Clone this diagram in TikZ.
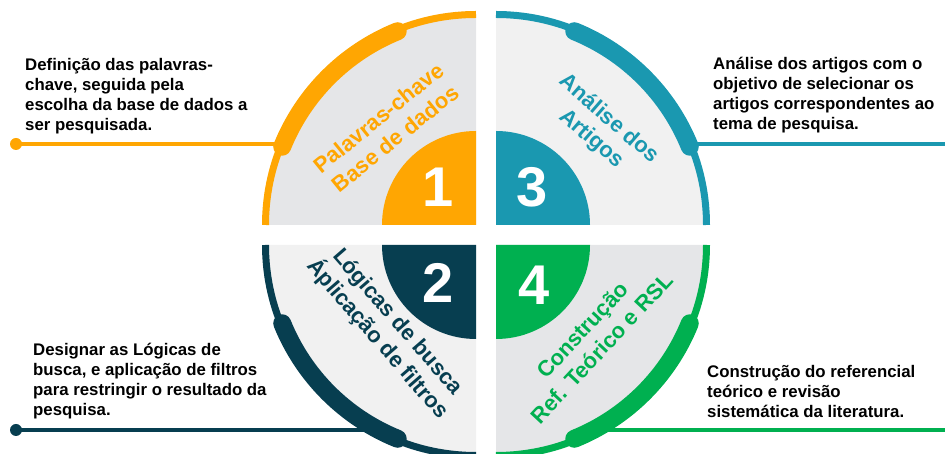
\documentclass[tikz,border=0pt]{standalone}
\usepackage{fontspec}
\setmainfont{Liberation Sans}
\definecolor{cOrange}{HTML}{FFA602}
\definecolor{cTeal}{HTML}{1A98B0}
\definecolor{cNavy}{HTML}{073E50}
\definecolor{cGreen}{HTML}{00B050}
\definecolor{cGrayA}{HTML}{E5E6E8}
\definecolor{cGrayB}{HTML}{F1F1F1}

% one quarter of the wheel: #1 centre, #2 start angle, #3 accent colour,
% #4 fill colour, #5 start angle of the thick band
\newcommand\wheelquarter[5]{%
  \fill[#4] #1 -- ++(#2:210) arc[start angle=#2, end angle=#2+90, radius=210] -- cycle;
  \draw[#3, line width=7pt] #1 ++(#2:210.5) arc[start angle=#2, end angle=#2+90, radius=210.5];
  \draw[#3, line width=18pt, line cap=round] #1 ++(#5:209) arc[start angle=#5, end angle=#5+46, radius=209];
  \fill[#3] #1 -- ++(#2:94) arc[start angle=#2, end angle=#2+90, radius=94] -- cycle;
}
\newcommand\desclines[1]{\begin{tabular}[t]{@{}l@{}}#1\end{tabular}}

\begin{document}
\begin{tikzpicture}[x=1pt,y=1pt,
  conn/.style={line width=4pt},
  enddot/.style={circle, inner sep=0pt, minimum size=12pt},
  desc/.style={anchor=base west, inner sep=0pt, text=black,
    font=\fontsize{16.8}{20}\selectfont\bfseries},
  numlbl/.style={inner sep=0pt, text=white, font=\fontsize{56}{56}\selectfont\bfseries},
  qlabel/.style={inner sep=0pt, align=center, font=\fontsize{22}{26.5}\selectfont\bfseries},
]
\useasboundingbox (0,0) rectangle (945,454);
\clip (0,0) rectangle (945,454);

% connectors from the descriptions to the wheel
\node[enddot, fill=cOrange] (p1) at (16,310) {};
\coordinate (q1) at (300,310);
\draw[conn, cOrange] (p1.center) -- (q1);

\coordinate (q3) at (680,310);
\coordinate (p3) at (945,310);
\draw[conn, cTeal] (q3) -- (p3);

\node[enddot, fill=cNavy] (p2) at (16,24) {};
\coordinate (q2) at (380,24);
\draw[conn, cNavy] (p2.center) -- (q2);

\coordinate (q4) at (590,24);
\coordinate (p4) at (945,24);
\draw[conn, cGreen] (q4) -- (p4);

% the four quarters
\wheelquarter{(476,229)}{90}{cOrange}{cGrayA}{112}
\wheelquarter{(496,229)}{0}{cTeal}{cGrayB}{22}
\wheelquarter{(476,209)}{180}{cNavy}{cGrayB}{202}
\wheelquarter{(496,209)}{270}{cGreen}{cGrayA}{292}

% step numbers
\node[numlbl] (n1) at (476-38,229+38) {1};
\node[numlbl] (n3) at (496+36,229+38) {3};
\node[numlbl] (n2) at (476-38,209-38) {2};
\node[numlbl] (n4) at (496+38,209-40) {4};

% step titles
\node[qlabel, text=cOrange, rotate=39] (l1) at (476-89,229+97) {Palavras-chave\\Base de dados};
\node[qlabel, text=cTeal, rotate=-41] (l3) at (496+104,229+96) {Análise dos\\Artigos};
\node[qlabel, text=cNavy, rotate=-49] (l2) at (476-89,209-86) {Lógicas de busca\\Áplicação de filtros};
\node[qlabel, text=cGreen, rotate=47] (l4) at (496+96,209-94) {Construção\\Ref. Teórico e RSL};

% descriptions
\node[desc] (t1) at (25,383.3) {\desclines{Definição das palavras-\\chave, seguida pela\\escolha da base de dados a\\ser pesquisada.}};
\node[desc] (t3) at (713,384) {\desclines{Análise dos artigos com o\\objetivo de selecionar os\\artigos correspondentes ao\\tema de pesquisa.}};
\node[desc] (t2) at (33,98) {\desclines{Designar as Lógicas de\\busca, e aplicação de filtros\\para restringir o resultado da\\pesquisa.}};
\node[desc] (t4) at (707,76.7) {\desclines{Construção do referencial\\teórico e revisão\\sistemática da literatura.}};
\end{tikzpicture}
\end{document}
